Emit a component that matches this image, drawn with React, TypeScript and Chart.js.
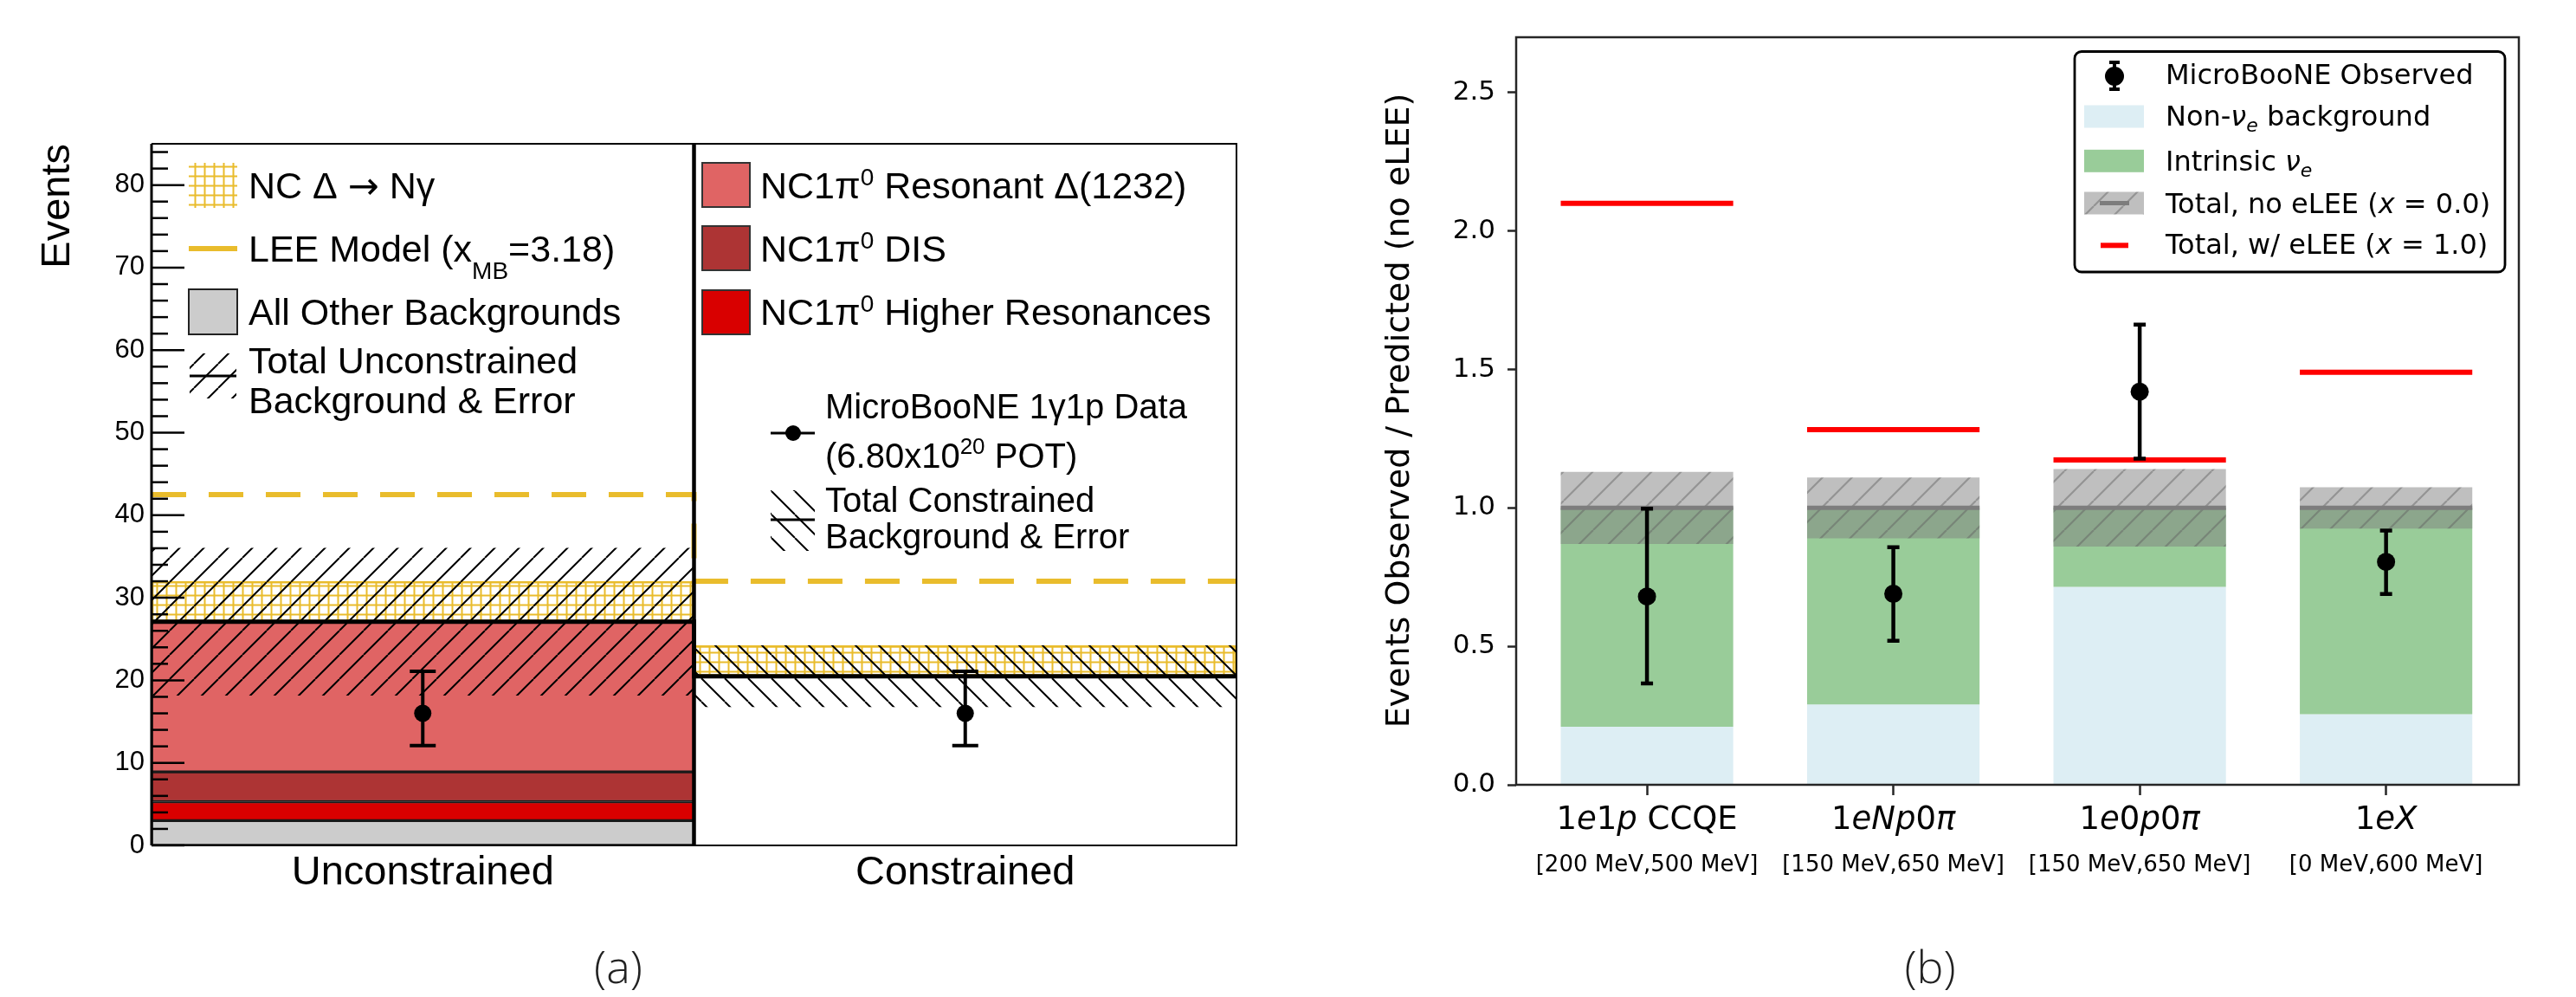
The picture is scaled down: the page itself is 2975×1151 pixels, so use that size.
import React, { useEffect, useRef } from 'react';
import { Chart, registerables } from 'chart.js';

Chart.register(...registerables);

// ---------------- Panel (a) data ----------------
const aCategories = ['Unconstrained', 'Constrained'];
const aOtherBkg = [3.0, null];
const aHigherRes = [2.3, null];
const aDIS = [3.6, null];
const aResDelta = [18.2, null];
const aBkgTotal = [27.1, 20.5];
const aBkgErr = [8.9, 3.7];
const aNCDelta = [4.9, 3.7];
const aLEE = [42.5, 32.0];
const aObs = [16, 16];
const aObsLow = [12.1, 12.1];
const aObsHigh = [21.1, 21.1];
const aYTicks = [0, 10, 20, 30, 40, 50, 60, 70, 80];
const aYMax = 85;

// ---------------- Panel (b) data ----------------
const bCategories = ['1$e$1$p$ CCQE', '1$eNp$0$π$', '1$e$0$p$0$π$', '1$eX$'];
const bRanges = ['[200 MeV,500 MeV]', '[150 MeV,650 MeV]', '[150 MeV,650 MeV]', '[0 MeV,600 MeV]'];
const bNonNuE = [0.21, 0.29, 0.715, 0.255];
const bPredTotal = [1.0, 1.0, 1.0, 1.0];
const bPredErr = [0.13, 0.11, 0.14, 0.075];
const bWithLEE = [2.1, 1.283, 1.173, 1.49];
const bObs = [0.68, 0.69, 1.42, 0.805];
const bObsLow = [0.366, 0.52, 1.178, 0.689];
const bObsHigh = [0.997, 0.858, 1.662, 0.918];
const bYTicks = [0, 0.5, 1.0, 1.5, 2.0, 2.5];
const bYMax = 2.7;

const LIB = '"Liberation Sans", Arial, Helvetica, sans-serif';
const DJV = '"DejaVu Sans", sans-serif';
const CAP_LIB = 0.716;
const CAP_DJV = 0.729;

type Seg = { t: string; size?: number; italic?: boolean; dy?: number; family?: string };

function drawSegs(
  ctx: CanvasRenderingContext2D,
  segs: Seg[],
  x: number,
  yCap: number,
  family: string,
  baseSize: number,
  capRatio: number,
  align: 'left' | 'center' | 'right' = 'left',
  color = '#000'
) {
  ctx.save();
  ctx.fillStyle = color;
  ctx.textBaseline = 'alphabetic';
  ctx.textAlign = 'left';
  const fontOf = (s: Seg) => `${s.italic ? 'italic ' : ''}${s.size ?? baseSize}px ${s.family ?? family}`;
  let total = 0;
  const widths = segs.map((s) => {
    ctx.font = fontOf(s);
    const w = ctx.measureText(s.t).width;
    total += w;
    return w;
  });
  let cx = align === 'left' ? x : align === 'center' ? x - total / 2 : x - total;
  const base = yCap + (capRatio * baseSize) / 2;
  segs.forEach((s, i) => {
    ctx.font = fontOf(s);
    ctx.fillText(s.t, cx, base + (s.dy ?? 0));
    cx += widths[i];
  });
  ctx.restore();
}

function mathSegs(str: string): Seg[] {
  return str
    .split('$')
    .map((t, i) => ({ t, italic: i % 2 === 1 }))
    .filter((s) => s.t.length > 0);
}

function makePattern(
  ctx: CanvasRenderingContext2D,
  kind: 'slash' | 'backslash' | 'grid',
  size: number,
  color: string,
  lw: number,
  bg?: string
): CanvasPattern {
  const c = document.createElement('canvas');
  c.width = size;
  c.height = size;
  const g = c.getContext('2d')!;
  if (bg) {
    g.fillStyle = bg;
    g.fillRect(0, 0, size, size);
  }
  g.strokeStyle = color;
  g.lineWidth = lw;
  g.beginPath();
  if (kind === 'slash') {
    for (const o of [-size, 0, size]) {
      g.moveTo(o, size);
      g.lineTo(o + size, 0);
    }
  } else if (kind === 'backslash') {
    for (const o of [-size, 0, size]) {
      g.moveTo(o, 0);
      g.lineTo(o + size, size);
    }
  } else {
    g.moveTo(size / 2, 0);
    g.lineTo(size / 2, size);
    g.moveTo(0, size / 2);
    g.lineTo(size, size / 2);
  }
  g.stroke();
  return ctx.createPattern(c, 'repeat')!;
}

function drawErrorBars(chart: any, label: string, lows: number[], highs: number[], lw: number, capHalf: number) {
  const idx = chart.data.datasets.findIndex((d: any) => d.label === label);
  if (idx < 0) return;
  const meta = chart.getDatasetMeta(idx);
  const y = chart.scales.y;
  const ctx: CanvasRenderingContext2D = chart.ctx;
  ctx.save();
  ctx.strokeStyle = '#000';
  ctx.lineWidth = lw;
  meta.data.forEach((pt: any, i: number) => {
    const x = pt.x;
    const yl = y.getPixelForValue(lows[i]);
    const yh = y.getPixelForValue(highs[i]);
    ctx.beginPath();
    ctx.moveTo(x, yl);
    ctx.lineTo(x, yh);
    ctx.moveTo(x - capHalf, yl);
    ctx.lineTo(x + capHalf, yl);
    ctx.moveTo(x - capHalf, yh);
    ctx.lineTo(x + capHalf, yh);
    ctx.stroke();
  });
  ctx.restore();
}

function buildChartA(canvas: HTMLCanvasElement) {
  const ctx = canvas.getContext('2d')!;
  const yellow = '#e9bc2c';
  const gridPat = makePattern(ctx, 'grid', 11, yellow, 2);
  const slashPat = makePattern(ctx, 'slash', 28, '#000', 2);
  const backPat = makePattern(ctx, 'backslash', 27, '#000', 2);

  const stackComponents = [aOtherBkg, aHigherRes, aDIS, aResDelta];
  const stackColors = ['#cccccc', '#d90000', '#ad3434', '#e06464'];
  const cum = aCategories.map(() => 0);
  const barCommon = { type: 'bar', grouped: false, barPercentage: 1, categoryPercentage: 1 };
  const ds: any[] = [];
  stackComponents.forEach((comp, k) => {
    const data: any[] = [];
    comp.forEach((v, j) => {
      if (v == null) return;
      data.push({ x: j + 0.5, y: [cum[j], cum[j] + v] });
      cum[j] += v;
    });
    ds.push({
      ...barCommon,
      label: 'stack' + k,
      data,
      backgroundColor: stackColors[k],
      borderColor: '#1a1a1a',
      borderWidth: 2,
      borderSkipped: false,
    });
  });
  ds.push({
    ...barCommon,
    label: 'ncdelta',
    data: aNCDelta.map((v, j) => ({ x: j + 0.5, y: [aBkgTotal[j], aBkgTotal[j] + v] })),
    backgroundColor: gridPat,
    borderColor: yellow,
    borderWidth: 2,
    borderSkipped: false,
  });
  ds.push({
    ...barCommon,
    label: 'err',
    data: aBkgTotal.map((v, j) => ({ x: j + 0.5, y: [v - aBkgErr[j], v + aBkgErr[j]] })),
    backgroundColor: [slashPat, backPat],
    borderWidth: 0,
  });
  ds.push({
    type: 'line',
    label: 'lee',
    data: aLEE.flatMap((v, j) => [
      { x: j, y: v },
      { x: j + 1, y: v },
    ]),
    borderColor: yellow,
    borderWidth: 6,
    borderDash: [40, 26],
    pointRadius: 0,
    fill: false,
    tension: 0,
  });
  ds.push({
    type: 'line',
    label: 'total',
    data: aBkgTotal.flatMap((v, j) => [
      { x: j, y: v },
      { x: j + 1, y: v },
    ]),
    borderColor: '#000',
    borderWidth: 5,
    pointRadius: 0,
    fill: false,
    tension: 0,
  });
  ds.push({
    type: 'scatter',
    label: 'obs',
    data: aObs.map((v, j) => ({ x: j + 0.5, y: v })),
    pointRadius: 10,
    backgroundColor: '#000',
    borderWidth: 0,
  });
  ds.forEach((d, i) => (d.order = ds.length - i));

  const plugin = {
    id: 'panelA',
    afterDatasetsDraw(chart: any) {
      const { chartArea: ca, scales } = chart;
      const c: CanvasRenderingContext2D = chart.ctx;
      const xd = scales.x.getPixelForValue(1);
      c.save();
      c.strokeStyle = '#000';
      c.lineWidth = 4.5;
      c.beginPath();
      c.moveTo(xd, ca.top);
      c.lineTo(xd, ca.bottom);
      c.stroke();
      c.restore();
      drawErrorBars(chart, 'obs', aObsLow, aObsHigh, 4, 15);
    },
    afterDraw(chart: any) {
      const { chartArea: ca, scales } = chart;
      const c: CanvasRenderingContext2D = chart.ctx;
      const y = scales.y;
      c.save();
      c.strokeStyle = '#000';
      c.lineWidth = 2;
      c.beginPath();
      c.moveTo(ca.left, ca.top);
      c.lineTo(ca.right, ca.top);
      c.lineTo(ca.right, ca.bottom);
      c.lineTo(ca.left, ca.bottom);
      c.stroke();
      c.lineWidth = 3;
      c.beginPath();
      c.moveTo(ca.left, ca.top);
      c.lineTo(ca.left, ca.bottom);
      c.stroke();
      c.lineWidth = 2.5;
      for (let v = 0; v < aYMax; v += 2) {
        const py = y.getPixelForValue(v);
        const len = v % 10 === 0 ? 38 : 19;
        c.beginPath();
        c.moveTo(ca.left, py);
        c.lineTo(ca.left + len, py);
        c.stroke();
      }
      c.restore();

      c.save();
      c.translate(63, ca.top);
      c.rotate(-Math.PI / 2);
      c.font = `47px ${LIB}`;
      c.fillStyle = '#000';
      c.textAlign = 'right';
      c.textBaseline = 'alphabetic';
      c.fillText('Events', 0, (CAP_LIB * 47) / 2);
      c.restore();

      c.save();
      c.fillStyle = gridPat;
      c.fillRect(218, 188, 56, 52);
      c.strokeStyle = yellow;
      c.lineWidth = 6;
      c.beginPath();
      c.moveTo(218, 287);
      c.lineTo(274, 287);
      c.stroke();
      c.fillStyle = '#cccccc';
      c.fillRect(218, 334, 56, 52);
      c.strokeStyle = '#222';
      c.lineWidth = 2;
      c.strokeRect(218, 334, 56, 52);
      c.fillStyle = slashPat;
      c.fillRect(219, 408, 54, 52);
      c.strokeStyle = '#000';
      c.lineWidth = 3;
      c.beginPath();
      c.moveTo(219, 434);
      c.lineTo(273, 434);
      c.stroke();
      const boxColors = ['#e06464', '#ad3434', '#d90000'];
      const boxY = [188, 261, 335];
      boxColors.forEach((col, i) => {
        c.fillStyle = col;
        c.fillRect(811, boxY[i], 55, 51);
        c.strokeStyle = '#333';
        c.lineWidth = 2;
        c.strokeRect(811, boxY[i], 55, 51);
      });
      c.strokeStyle = '#000';
      c.lineWidth = 3;
      c.beginPath();
      c.moveTo(890, 500);
      c.lineTo(941, 500);
      c.stroke();
      c.fillStyle = '#000';
      c.beginPath();
      c.arc(916, 500, 9, 0, Math.PI * 2);
      c.fill();
      c.fillStyle = backPat;
      c.fillRect(890, 566, 51, 70);
      c.lineWidth = 3;
      c.beginPath();
      c.moveTo(890, 600);
      c.lineTo(941, 600);
      c.stroke();
      c.restore();

      drawSegs(c, [{ t: 'NC Δ ' }, { t: '→', family: DJV }, { t: ' Nγ' }], 287, 214, LIB, 43, CAP_LIB);
      drawSegs(c, [{ t: 'LEE Model (x' }, { t: 'MB', size: 28, dy: 20 }, { t: '=3.18)' }], 287, 287, LIB, 43, CAP_LIB);
      drawSegs(c, [{ t: 'All Other Backgrounds' }], 287, 360, LIB, 43, CAP_LIB);
      drawSegs(c, [{ t: 'Total Unconstrained' }], 287, 416, LIB, 43, CAP_LIB);
      drawSegs(c, [{ t: 'Background & Error' }], 287, 462, LIB, 43, CAP_LIB);

      const nc = (rest: string): Seg[] => [{ t: 'NC1π' }, { t: '0', size: 28, dy: -15 }, { t: rest }];
      drawSegs(c, nc(' Resonant Δ(1232)'), 878, 214, LIB, 43, CAP_LIB);
      drawSegs(c, nc(' DIS'), 878, 287, LIB, 43, CAP_LIB);
      drawSegs(c, nc(' Higher Resonances'), 878, 360, LIB, 43, CAP_LIB);
      drawSegs(c, [{ t: 'MicroBooNE 1γ1p Data' }], 953, 469, LIB, 40, CAP_LIB);
      drawSegs(c, [{ t: '(6.80x10' }, { t: '20', size: 26, dy: -16 }, { t: ' POT)' }], 953, 526, LIB, 40, CAP_LIB);
      drawSegs(c, [{ t: 'Total Constrained' }], 953, 577, LIB, 40, CAP_LIB);
      drawSegs(c, [{ t: 'Background & Error' }], 953, 619, LIB, 40, CAP_LIB);

      c.save();
      c.font = `300 52px "Open Sans", ${DJV}`;
      c.fillStyle = '#222';
      c.textAlign = 'center';
      c.textBaseline = 'middle';
      c.fillText('(a)', 714, 1120);
      c.restore();
    },
  };

  return new Chart(canvas, {
    type: 'bar',
    data: { datasets: ds },
    options: {
      responsive: false,
      animation: false,
      devicePixelRatio: 1,
      events: [],
      layout: { padding: { left: 0, top: 166, right: 72, bottom: 65 } },
      plugins: { legend: { display: false }, tooltip: { enabled: false } },
      scales: {
        x: {
          type: 'linear',
          min: 0,
          max: 2,
          bounds: 'data',
          offset: false,
          afterBuildTicks: (s: any) => {
            s.ticks = aCategories.map((_, j) => ({ value: j + 0.5 }));
          },
          afterFit: (s: any) => {
            s.height = 110;
          },
          ticks: {
            callback: (v: any) => aCategories[Math.round(Number(v) - 0.5)] ?? '',
            font: { family: LIB, size: 47 },
            color: '#000',
            padding: 4,
            autoSkip: false,
            maxRotation: 0,
          },
          grid: { display: false, drawTicks: false, offset: false },
          border: { display: false },
        },
        y: {
          type: 'linear',
          min: 0,
          max: aYMax,
          bounds: 'data',
          afterBuildTicks: (s: any) => {
            s.ticks = aYTicks.map((v) => ({ value: v }));
          },
          afterFit: (s: any) => {
            s.width = 175;
          },
          ticks: { font: { family: LIB, size: 31 }, color: '#000', padding: 8 },
          grid: { display: false, drawTicks: false },
          border: { display: false },
        },
      },
    } as any,
    plugins: [plugin],
  } as any);
}

function buildChartB(canvas: HTMLCanvasElement) {
  const ctx = canvas.getContext('2d')!;
  const blue = 'rgb(221,238,244)';
  const green = 'rgb(153,204,153)';
  const bandPat = makePattern(ctx, 'slash', 34, 'rgba(95,95,95,0.45)', 2.2, 'rgba(128,128,128,0.5)');
  const half = 0.35;
  const barCommon = { type: 'bar', grouped: false, barPercentage: 0.7, categoryPercentage: 1, borderWidth: 0 };
  const segLine = (vals: number[]) =>
    vals.flatMap((v, i) => [
      { x: i - half, y: v },
      { x: i + half, y: v },
      { x: i + 0.5, y: null },
    ]);
  const ds: any[] = [
    { ...barCommon, label: 'nonnue', data: bNonNuE.map((v, i) => ({ x: i, y: [0, v] })), backgroundColor: blue },
    {
      ...barCommon,
      label: 'intrinsic',
      data: bPredTotal.map((t, i) => ({ x: i, y: [bNonNuE[i], t] })),
      backgroundColor: green,
    },
    {
      ...barCommon,
      label: 'band',
      data: bPredTotal.map((t, i) => ({ x: i, y: [t - bPredErr[i], t + bPredErr[i]] })),
      backgroundColor: bandPat,
    },
    {
      type: 'line',
      label: 'pred',
      data: segLine(bPredTotal),
      borderColor: 'rgb(125,125,125)',
      borderWidth: 5,
      pointRadius: 0,
      spanGaps: false,
      fill: false,
    },
    {
      type: 'line',
      label: 'withlee',
      data: segLine(bWithLEE),
      borderColor: '#ff0000',
      borderWidth: 6,
      pointRadius: 0,
      spanGaps: false,
      fill: false,
    },
    {
      type: 'scatter',
      label: 'obs',
      data: bObs.map((v, i) => ({ x: i, y: v })),
      pointRadius: 10.5,
      backgroundColor: '#000',
      borderWidth: 0,
    },
  ];
  ds.forEach((d, i) => (d.order = ds.length - i));

  const plugin = {
    id: 'panelB',
    afterDatasetsDraw(chart: any) {
      drawErrorBars(chart, 'obs', bObsLow, bObsHigh, 4.5, 7);
    },
    afterDraw(chart: any) {
      const { chartArea: ca, scales } = chart;
      const c: CanvasRenderingContext2D = chart.ctx;
      c.save();
      c.strokeStyle = '#262626';
      c.lineWidth = 2.5;
      c.strokeRect(ca.left, ca.top, ca.right - ca.left, ca.bottom - ca.top);
      c.restore();

      bCategories.forEach((lab, i) => {
        const px = scales.x.getPixelForValue(i);
        drawSegs(c, mathSegs(lab), px, 943.7, DJV, 37, CAP_DJV, 'center');
        drawSegs(c, [{ t: bRanges[i] }], px, 996.7, DJV, 26, CAP_DJV, 'center');
      });

      c.save();
      c.translate(117, 474);
      c.rotate(-Math.PI / 2);
      c.font = `38px ${DJV}`;
      c.fillStyle = '#000';
      c.textAlign = 'center';
      c.textBaseline = 'middle';
      c.fillText('Events Observed / Predicted (no eLEE)', 0, 0);
      c.restore();

      c.save();
      c.beginPath();
      (c as any).roundRect(896, 59.5, 497, 254.5, 8);
      c.fillStyle = '#fff';
      c.fill();
      c.strokeStyle = '#000';
      c.lineWidth = 2.8;
      c.stroke();
      c.strokeStyle = '#000';
      c.lineWidth = 4;
      c.beginPath();
      c.moveTo(942, 72);
      c.lineTo(942, 103);
      c.moveTo(936, 72);
      c.lineTo(948, 72);
      c.moveTo(936, 103);
      c.lineTo(948, 103);
      c.stroke();
      c.fillStyle = '#000';
      c.beginPath();
      c.arc(942, 88, 11, 0, Math.PI * 2);
      c.fill();
      c.fillStyle = blue;
      c.fillRect(907, 121.5, 69, 26);
      c.fillStyle = green;
      c.fillRect(907, 172.8, 69, 26);
      c.fillStyle = bandPat;
      c.fillRect(907, 221.5, 69, 26);
      c.strokeStyle = 'rgb(125,125,125)';
      c.lineWidth = 5;
      c.beginPath();
      c.moveTo(925, 234.5);
      c.lineTo(959, 234.5);
      c.stroke();
      c.strokeStyle = '#ff0000';
      c.lineWidth = 6;
      c.beginPath();
      c.moveTo(926, 283.3);
      c.lineTo(958, 283.3);
      c.stroke();
      c.restore();

      const tx = 1001;
      const sub: Seg = { t: 'e', italic: true, size: 22, dy: 7 };
      drawSegs(c, [{ t: 'MicroBooNE Observed' }], tx, 85.7, DJV, 32, CAP_DJV);
      drawSegs(c, [{ t: 'Non-' }, { t: 'ν', italic: true }, sub, { t: ' background' }], tx, 133.7, DJV, 32, CAP_DJV);
      drawSegs(c, [{ t: 'Intrinsic ' }, { t: 'ν', italic: true }, sub], tx, 185, DJV, 32, CAP_DJV);
      drawSegs(c, [{ t: 'Total, no eLEE (' }, { t: 'x', italic: true }, { t: ' = 0.0)' }], tx, 234, DJV, 32, CAP_DJV);
      drawSegs(c, [{ t: 'Total, w/ eLEE (' }, { t: 'x', italic: true }, { t: ' = 1.0)' }], tx, 281.7, DJV, 32, CAP_DJV);

      c.save();
      c.font = `300 52px "Open Sans", ${DJV}`;
      c.fillStyle = '#222';
      c.textAlign = 'center';
      c.textBaseline = 'middle';
      c.fillText('(b)', 729, 1120);
      c.restore();
    },
  };

  return new Chart(canvas, {
    type: 'bar',
    data: { datasets: ds },
    options: {
      responsive: false,
      animation: false,
      devicePixelRatio: 1,
      events: [],
      layout: { padding: { left: 0, top: 43, right: 66, bottom: 95 } },
      plugins: { legend: { display: false }, tooltip: { enabled: false } },
      scales: {
        x: {
          type: 'linear',
          min: -0.531,
          max: 3.539,
          bounds: 'data',
          offset: false,
          afterBuildTicks: (s: any) => {
            s.ticks = bCategories.map((_, i) => ({ value: i }));
          },
          afterFit: (s: any) => {
            s.height = 150;
          },
          ticks: { display: false, autoSkip: false },
          grid: {
            display: true,
            drawOnChartArea: false,
            drawTicks: true,
            tickLength: 12,
            tickWidth: 2.5,
            color: '#262626',
            offset: false,
          },
          border: { display: false },
        },
        y: {
          type: 'linear',
          min: 0,
          max: bYMax,
          bounds: 'data',
          afterBuildTicks: (s: any) => {
            s.ticks = bYTicks.map((v) => ({ value: v }));
          },
          afterFit: (s: any) => {
            s.width = 251;
          },
          ticks: {
            callback: (v: any) => Number(v).toFixed(1),
            font: { family: DJV, size: 31 },
            color: '#000',
            padding: 14,
          },
          grid: {
            display: true,
            drawOnChartArea: false,
            drawTicks: true,
            tickLength: 10,
            tickWidth: 2.5,
            color: '#262626',
          },
          border: { display: false },
        },
      },
    } as any,
    plugins: [plugin],
  } as any);
}

export default function App() {
  const refA = useRef<HTMLCanvasElement>(null);
  const refB = useRef<HTMLCanvasElement>(null);
  useEffect(() => {
    const ca = buildChartA(refA.current!);
    const cb = buildChartB(refB.current!);
    return () => {
      ca.destroy();
      cb.destroy();
    };
  }, []);
  return (
    <div style={{ position: 'fixed', left: 0, top: 0, width: 2975, height: 1151, background: '#fff' }}>
      <canvas
        ref={refA}
        width={1500}
        height={1151}
        style={{ position: 'absolute', left: 0, top: 0, width: 1500, height: 1151 }}
      />
      <canvas
        ref={refB}
        width={1475}
        height={1151}
        style={{ position: 'absolute', left: 1500, top: 0, width: 1475, height: 1151 }}
      />
    </div>
  );
}
